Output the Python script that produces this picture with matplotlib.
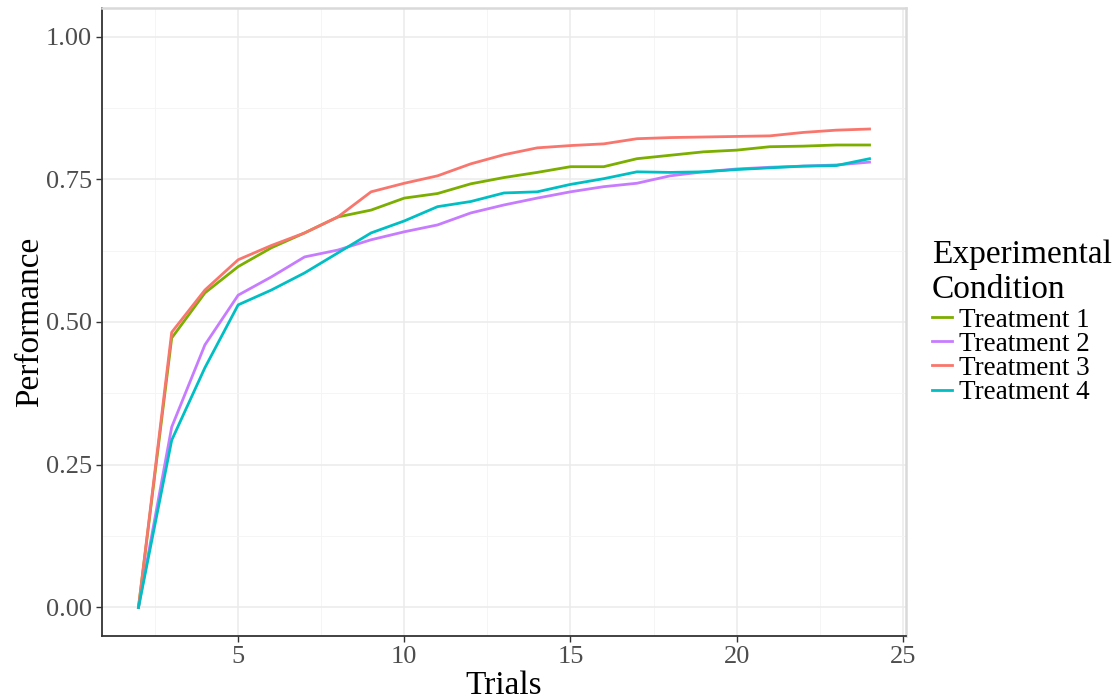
import matplotlib
matplotlib.use("Agg")
import matplotlib.pyplot as plt
import matplotlib.ticker as ticker
import numpy as np

plt.rcParams['font.family'] = ['Liberation Serif', 'DejaVu Serif']

trials = list(range(2, 25))

treatment_1 = [0.0, 0.472, 0.551, 0.597, 0.630, 0.656, 0.684, 0.696, 0.717, 0.725,
               0.742, 0.753, 0.762, 0.772, 0.772, 0.786, 0.792, 0.798, 0.801, 0.807,
               0.808, 0.810, 0.810]
treatment_2 = [0.0, 0.316, 0.460, 0.547, 0.579, 0.614, 0.626, 0.644, 0.658, 0.670,
               0.691, 0.705, 0.717, 0.728, 0.737, 0.743, 0.756, 0.763, 0.768, 0.771,
               0.773, 0.775, 0.780]
treatment_3 = [0.0, 0.482, 0.556, 0.609, 0.634, 0.656, 0.684, 0.728, 0.743, 0.756,
               0.777, 0.793, 0.805, 0.809, 0.812, 0.821, 0.823, 0.824, 0.825, 0.826,
               0.832, 0.836, 0.838]
treatment_4 = [0.0, 0.293, 0.420, 0.530, 0.556, 0.586, 0.621, 0.656, 0.677, 0.702,
               0.711, 0.726, 0.728, 0.741, 0.751, 0.763, 0.762, 0.763, 0.767, 0.770,
               0.773, 0.774, 0.786]

labels = ['Treatment 1', 'Treatment 2', 'Treatment 3', 'Treatment 4']
series = [treatment_1, treatment_2, treatment_3, treatment_4]
colors = ['#7CAE00', '#C77CFF', '#F8766D', '#00BFC4']

fig = plt.figure(figsize=(11.2, 6.99), dpi=100)
ax = fig.add_axes([0.091, 0.0901, 0.718, 0.8985])

ax.set_xlim(0.9, 25.1)
ax.set_ylim(-0.05, 1.05)
ax.xaxis.set_major_locator(ticker.MultipleLocator(5))
ax.xaxis.set_minor_locator(ticker.MultipleLocator(2.5))
ax.yaxis.set_major_locator(ticker.MultipleLocator(0.25))
ax.yaxis.set_minor_locator(ticker.MultipleLocator(0.125))
ax.yaxis.set_major_formatter(ticker.FormatStrFormatter('%.2f'))

ax.grid(which='major', color='#EBEBEB', linewidth=1.1)
ax.grid(which='minor', color='#F4F4F4', linewidth=0.6)
ax.set_axisbelow(True)

for s in ['top', 'right']:
    ax.spines[s].set_color('#D9D9D9')
    ax.spines[s].set_linewidth(1.8)
for s in ['left', 'bottom']:
    ax.spines[s].set_color('#333333')
    ax.spines[s].set_linewidth(1.3)

ax.tick_params(which='major', direction='out', length=4, width=1, color='#333333',
               labelsize=19, labelcolor='#4D4D4D', pad=3)
ax.tick_params(which='minor', length=0)

for lab, ys, c in zip(labels, series, colors):
    ax.plot(trials, ys, color=c, linewidth=2.0, label=lab)

ax.set_xlabel('Trials', fontsize=24, labelpad=2)
ax.set_ylabel('Performance', fontsize=24, labelpad=1)

leg = ax.legend(title='Experimental\nCondition', loc='upper left',
                bbox_to_anchor=(1.032, 0.632), frameon=False, fontsize=19.5,
                title_fontsize=24, handlelength=0.75, handletextpad=0.25,
                labelspacing=-0.03, borderpad=0, borderaxespad=0)
leg._legend_box.align = 'left'
leg._legend_box.sep = 2
leg.get_title().set_linespacing(1.2)

fig.savefig('out.png', dpi=100)
